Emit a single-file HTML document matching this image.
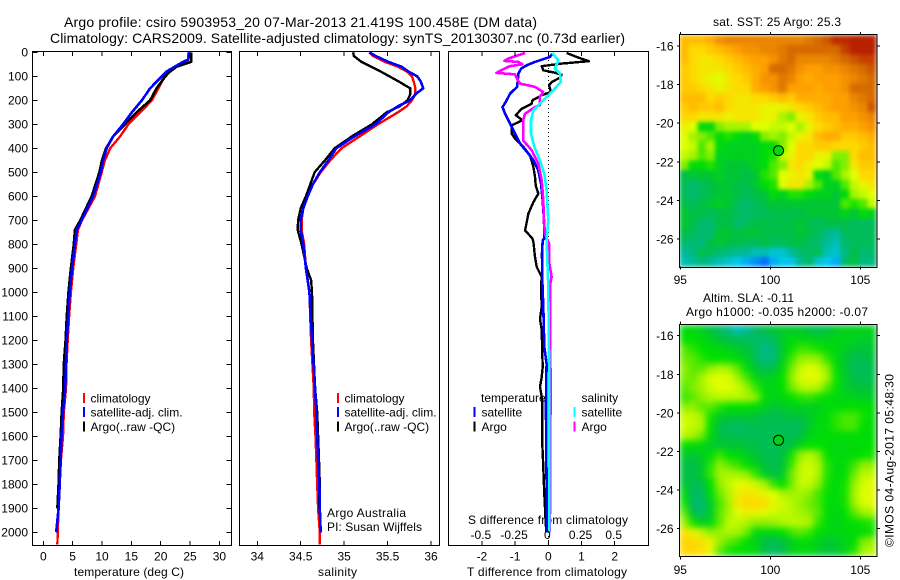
<!DOCTYPE html>
<html>
<head>
<meta charset="utf-8">
<title>Argo profile</title>
<style>
html,body{margin:0;padding:0;background:#fff;}
svg{display:block;}
text{font-family:"Liberation Sans",sans-serif;font-size:12px;fill:#000;}
</style>
</head>
<body>
<svg id="chart" width="900" height="580" viewBox="0 0 900 580" xmlns="http://www.w3.org/2000/svg">
<rect x="0" y="0" width="900" height="580" fill="#fff"/>
<text x="64" y="27" style="font-size:14px" textLength="473">Argo profile: csiro 5903953_20 07-Mar-2013 21.419S 100.458E (DM data)</text>
<text x="50" y="43" style="font-size:14px" textLength="575">Climatology: CARS2009. Satellite-adjusted climatology: synTS_20130307.nc (0.73d earlier)</text>
<text x="74" y="576" textLength="110">temperature (deg C)</text>
<text x="318" y="576" textLength="39">salinity</text>
<text x="467" y="576" textLength="160">T difference from climatology</text>
<text x="468" y="524" textLength="160">S difference from climatology</text>
<text x="327" y="517" textLength="79">Argo Australia</text>
<text x="327" y="531" textLength="95">PI: Susan Wijffels</text>
<text x="713" y="26" textLength="128">sat. SST: 25 Argo: 25.3</text>
<text x="703" y="302" textLength="91">Altim. SLA: -0.11</text>
<text x="686" y="316" textLength="182">Argo h1000: -0.035 h2000: -0.07</text>
<text transform="translate(893.5,547) rotate(-90)" textLength="173">©IMOS 04-Aug-2017 05:48:30</text>
</svg>
<script>
const pressureTicks = [0,100,200,300,400,500,600,700,800,900,1000,1100,1200,1300,1400,1500,1600,1700,1800,1900,2000];
const temperatureTicks = [0,5,10,15,20,25,30];
const salinityTicks = [34,34.5,35,35.5,36];
const salinityTickLabels = ['34','34.5','35','35.5','36'];
const tDiffTicks = [-2,-1,0,1,2];
const sDiffTicks = [-0.5,-0.25,0,0.25,0.5];
const sDiffTickLabels = ['-0.5','-0.25','0','0.25','0.5'];
const lonTicks = [95,100,105];
const latTicks = [-16,-18,-20,-22,-24,-26];

const tempPressure = [0,30,40,60,80,100,150,200,250,300,350,400,450,500,600,700,740,800,900,1000,1100,1200,1300,1400,1500,1600,1700,1800,1900,2000,2050];
const tempClimatology = [24.7,24.7,24.6,22.7,21.3,20.7,19.6,18.5,16.5,14.5,13.1,11.4,10.5,9.95,8.8,6.6,5.9,5.6,5.1,4.7,4.4,4.15,3.95,3.87,3.5,3.35,3.0,2.8,2.6,2.45,2.4];
const tempSatellite = [24.9,24.7,23.8,22.4,21.0,20.2,18.2,16.8,15.1,13.6,11.9,10.8,10.2,9.8,8.5,6.5,5.7,5.4,4.9,4.5,4.25,4.0,3.85,3.75,3.35,3.1,2.95,2.8,2.6,2.2];
const tempArgo = [25.2,25.2,25.2,22.7,21.6,20.8,19.3,18.2,15.9,13.9,11.9,10.7,10.0,9.55,8.25,6.3,5.4,5.2,4.7,4.3,4.0,3.8,3.5,3.4,3.13,2.96,2.73,2.6,2.4];

const salPressure = [0,15,40,60,80,100,120,150,175,200,225,250,300,350,400,450,500,550,600,650,700,740,800,900,950,1000,1200,1400,1500,1600,1700,1800,1900,2000,2050];
const salClimatology = [35.29,35.33,35.47,35.62,35.72,35.78,35.80,35.82,35.82,35.78,35.72,35.62,35.39,35.18,34.97,34.84,34.73,34.64,34.58,34.53,34.51,34.51,34.54,34.56,34.58,34.6,34.62,34.65,34.655,34.67,34.68,34.69,34.70,34.72,34.72];
const salSatellite = [35.29,35.36,35.51,35.66,35.74,35.84,35.88,35.91,35.82,35.76,35.62,35.51,35.36,35.12,34.91,34.82,34.72,34.64,34.58,34.53,34.50,34.50,34.53,34.56,34.58,34.6,34.63,34.665,34.68,34.69,34.70,34.715,34.72,34.73];
const salArgo = [35.105,35.11,35.2,35.31,35.42,35.52,35.62,35.76,35.76,35.73,35.64,35.49,35.32,35.09,34.89,34.78,34.66,34.61,34.56,34.5,34.47,34.465,34.51,34.57,34.62,34.63,34.64,34.665,34.69,34.70,34.71,34.72,34.71];

const dTArgoPressure = [3,19,37,47,58,75,85,93,106,124,137,165,179,200,214,235,262,283,304,339,360,394,429,478,519,554,589,624,672,742,776,790,853,894,936,978,1061,1110,1158,1256,1311,1353,1394,1450,1506,1631,1728,1839,1950,1999];
const dTArgo = [0.55,0.85,1.22,0.40,-0.20,-0.15,0.20,0.40,0.35,0.10,0.02,0.08,-0.20,-0.48,-0.50,-0.80,-0.98,-0.78,-1.10,-1.10,-1.00,-0.75,-0.55,-0.45,-0.40,-0.38,-0.30,-0.45,-0.60,-0.70,-0.48,-0.45,-0.40,-0.35,-0.20,-0.22,-0.20,-0.25,-0.20,-0.18,-0.17,-0.20,-0.25,-0.18,-0.18,-0.18,-0.15,-0.12,-0.08,-0.06];
const dTSatPressure = [6,19,40,54,68,89,117,144,172,207,228,256,297,339,381,422,450,492,547,617,700,776,783,839,950,1061,1228,1297,1450,1506,2000];
const dTSat = [0.12,0.05,-0.40,-0.65,-0.82,-0.90,-0.92,-0.94,-1.15,-1.28,-1.38,-1.30,-1.15,-1.00,-0.85,-0.60,-0.45,-0.30,-0.22,-0.17,-0.13,-0.12,-0.17,-0.19,-0.18,-0.15,-0.12,-0.05,-0.07,-0.07,-0.04];
const dSArgoPressure = [3,26,36,40,50,58,68,86,92,117,131,144,165,186,221,228,256,283,325,367,408,464,533,617,700,756,797,881,936,971,1068,1450,1550,1850,2000];
const dSArgo = [-0.175,-0.30,-0.33,-0.225,-0.195,-0.29,-0.33,-0.39,-0.25,-0.23,-0.21,-0.10,-0.04,-0.063,-0.063,-0.10,-0.175,-0.19,-0.19,-0.19,-0.125,-0.075,-0.05,-0.038,-0.033,-0.025,0.005,0.008,0.025,0.0125,0.0125,0.018,0.015,0.015,0.01];
const dSSatPressure = [3,33,68,89,124,158,200,242,283,339,394,450,506,575,700,783,978,1256,1450,2000];
const dSSat = [0.03,0.075,0.05,0.088,0.093,0.038,-0.038,-0.113,-0.13,-0.13,-0.105,-0.063,-0.03,-0.013,0,-0.013,0,0.005,0.008,0.008];

const sstGrid = [
[26.1,26.1,26.1,26.2,26.4,26.5,26.5,26.5,26.5,26.5,26.5,26.5,26.5,26.5,26.6,26.7,26.8,27.0,27.0,27.2,27.2,27.2],
[26.1,25.9,25.9,26.0,26.1,26.2,26.3,26.4,26.4,26.5,26.5,26.6,26.7,26.7,26.7,26.7,26.7,26.7,26.9,27.1,27.2,27.2],
[26.1,25.9,25.8,25.8,25.9,26.0,26.1,26.2,26.3,26.3,26.4,26.6,26.7,26.5,26.5,26.5,26.5,26.6,26.7,26.8,26.9,26.9],
[26.0,25.9,25.8,25.8,25.8,25.9,26.0,26.1,26.2,26.3,26.7,26.7,26.6,26.4,26.3,26.3,26.4,26.4,26.5,26.6,26.7,26.8],
[26.0,25.9,25.8,25.7,25.6,25.8,25.9,26.0,26.2,26.4,26.4,26.6,26.5,26.3,26.2,26.3,26.3,26.3,26.4,26.5,26.6,26.7],
[26.0,26.0,25.9,25.8,25.7,25.8,25.9,25.9,26.2,26.3,26.4,26.6,26.3,26.3,26.3,26.2,26.3,26.3,26.4,26.7,26.7,26.7],
[26.1,26.1,26.1,25.9,26.0,25.9,25.8,25.8,25.9,25.9,26.0,26.1,26.0,26.2,26.2,26.2,26.2,26.3,26.3,26.5,26.6,26.7],
[26.0,26.1,26.0,26.0,26.1,25.9,25.8,25.8,25.8,25.7,25.7,25.7,25.8,25.9,26.0,26.1,26.2,26.3,26.3,26.4,26.5,26.8],
[25.9,25.9,25.8,25.8,25.8,25.7,25.8,25.8,25.8,25.7,25.7,25.4,25.3,25.7,25.8,26.0,26.1,26.1,26.3,26.3,26.4,26.5],
[25.7,25.6,25.0,25.0,25.3,25.4,25.4,25.4,25.6,25.6,25.5,25.5,25.6,25.4,25.7,25.9,26.0,26.1,26.2,26.2,26.3,26.4],
[25.6,25.4,25.3,25.2,25.0,25.1,25.0,24.9,25.0,25.3,25.4,25.3,25.5,25.7,25.8,26.1,26.2,26.2,26.0,26.0,26.1,26.2],
[25.6,25.5,25.2,25.4,25.0,24.9,24.9,24.9,24.9,25.0,25.0,25.3,25.6,25.9,25.9,26.0,26.0,25.9,25.9,25.9,26.0,26.1],
[25.5,25.4,25.2,25.3,24.9,24.9,24.9,24.9,24.9,25.0,25.1,25.5,25.7,25.9,25.9,25.7,25.7,25.3,25.3,25.9,26.1,26.1],
[25.3,25.0,25.0,25.1,24.9,24.8,24.8,24.8,24.9,25.0,25.2,25.3,25.8,25.9,25.7,25.6,25.5,25.2,25.3,25.8,26.0,26.0],
[24.7,24.8,24.8,24.8,24.9,24.8,24.8,24.7,24.8,25.1,25.2,25.6,25.7,25.8,25.7,25.0,24.9,25.2,25.4,25.6,25.9,25.9],
[24.6,24.5,24.6,24.7,24.8,24.8,24.7,24.7,24.8,25.0,25.1,25.6,25.8,25.8,25.4,25.2,24.9,24.9,25.2,25.5,25.7,25.8],
[24.6,24.5,24.6,24.7,24.8,24.8,24.7,24.6,24.7,24.8,25.0,24.9,25.1,25.1,25.0,24.9,24.9,24.8,25.0,25.4,25.5,25.6],
[24.7,24.6,24.7,24.8,24.9,24.8,24.6,24.5,24.6,24.7,24.8,24.8,24.8,24.8,24.8,24.8,24.8,24.8,25.2,25.1,25.2,25.5],
[24.8,24.7,24.7,24.6,24.7,24.7,24.6,24.5,24.6,24.6,24.7,24.7,24.7,24.7,24.8,24.8,24.8,24.8,24.9,24.8,25.0,24.9],
[24.8,24.7,24.5,24.5,24.7,24.7,24.5,24.6,24.7,24.7,24.7,24.7,24.7,24.8,24.7,24.6,24.7,24.7,24.7,24.6,24.6,24.6],
[24.7,24.6,24.5,24.5,24.8,24.8,24.7,24.8,24.8,24.7,24.7,24.7,24.7,24.8,24.7,24.6,24.4,24.3,24.6,24.6,24.6,24.6],
[24.5,24.5,24.4,24.7,24.8,24.7,24.7,24.6,24.6,24.7,24.6,24.6,24.7,24.7,24.6,24.5,24.3,24.2,24.5,24.6,24.6,24.6],
[24.3,24.4,24.7,24.6,24.5,24.4,24.3,24.3,24.2,24.2,24.1,24.1,24.3,24.5,24.6,24.6,24.2,24.1,24.4,24.7,24.5,24.5],
[24.2,24.3,24.4,24.3,24.2,24.1,24.0,23.9,23.8,23.7,23.9,24.0,24.0,24.3,24.5,24.1,24.0,23.9,24.5,24.7,24.4,24.4]
];
const slaGrid = [
[-0.1,-0.1,-0.13,-0.17,-0.22,-0.28,-0.33,-0.3,-0.22,-0.18,-0.16,-0.14,-0.14,-0.15,-0.17,-0.2,-0.17,-0.14,-0.12,-0.12,-0.12,-0.12],
[-0.08,-0.08,-0.1,-0.12,-0.16,-0.18,-0.2,-0.21,-0.22,-0.24,-0.2,-0.14,-0.1,-0.1,-0.11,-0.12,-0.12,-0.11,-0.11,-0.12,-0.13,-0.13],
[-0.03,-0.06,-0.08,-0.09,-0.1,-0.12,-0.14,-0.17,-0.22,-0.28,-0.25,-0.14,-0.08,-0.05,-0.05,-0.07,-0.09,-0.1,-0.13,-0.15,-0.16,-0.15],
[-0.02,-0.03,-0.06,-0.08,-0.08,-0.08,-0.1,-0.13,-0.2,-0.27,-0.25,-0.13,-0.05,0.0,0.01,0,-0.05,-0.1,-0.15,-0.19,-0.19,-0.17],
[0.0,-0.03,-0.03,0,0.03,0.02,-0.03,-0.09,-0.16,-0.2,-0.18,-0.1,-0.02,0.05,0.08,0.06,0,-0.08,-0.15,-0.2,-0.21,-0.2],
[-0.01,-0.02,0.02,0.07,0.08,0.07,0.02,-0.04,-0.1,-0.13,-0.12,-0.08,0,0.07,0.1,0.08,0.02,-0.07,-0.14,-0.18,-0.2,-0.19],
[-0.03,-0.01,0.02,0.06,0.08,0.08,0.06,0.01,-0.05,-0.1,-0.11,-0.08,-0.02,0.03,0.05,0.03,-0.03,-0.08,-0.13,-0.16,-0.16,-0.16],
[-0.05,-0.03,0,0.03,0.04,0.04,0.04,0.03,0,-0.09,-0.12,-0.1,-0.08,-0.06,-0.05,-0.07,-0.09,-0.1,-0.11,-0.12,-0.13,-0.13],
[0,0,-0.03,-0.03,-0.06,-0.08,-0.08,-0.08,-0.1,-0.12,-0.15,-0.14,-0.12,-0.12,-0.12,-0.12,-0.1,-0.09,-0.09,-0.08,-0.08,-0.09],
[0.06,0.05,0.02,-0.07,-0.13,-0.15,-0.15,-0.15,-0.16,-0.19,-0.2,-0.18,-0.16,-0.17,-0.14,-0.11,-0.09,-0.06,-0.04,-0.04,-0.07,-0.09],
[0.07,0.05,0.03,-0.08,-0.18,-0.21,-0.22,-0.21,-0.19,-0.2,-0.2,-0.2,-0.21,-0.2,-0.14,-0.1,-0.09,-0.06,-0.04,-0.04,-0.08,-0.09],
[0.04,0.02,-0.02,-0.1,-0.17,-0.19,-0.2,-0.2,-0.2,-0.2,-0.19,-0.19,-0.2,-0.17,-0.12,-0.09,-0.09,-0.09,-0.09,-0.09,-0.09,-0.09],
[-0.08,-0.09,-0.1,-0.14,-0.15,-0.16,-0.15,-0.16,-0.18,-0.2,-0.19,-0.19,-0.17,-0.11,-0.08,-0.08,-0.09,-0.1,-0.1,-0.1,-0.09,-0.08],
[-0.14,-0.15,-0.13,-0.09,-0.05,-0.08,-0.1,-0.13,-0.16,-0.19,-0.2,-0.18,-0.07,0,0.04,0,-0.08,-0.1,-0.1,-0.09,-0.08,-0.07],
[-0.17,-0.18,-0.15,-0.06,0,-0.03,-0.05,-0.08,-0.12,-0.17,-0.2,-0.16,-0.05,0.04,0.06,0.03,-0.06,-0.1,-0.09,-0.05,0,0],
[-0.17,-0.18,-0.14,-0.05,0.02,0.03,0.02,0,-0.05,-0.13,-0.18,-0.14,-0.02,0.05,0.07,0.03,-0.06,-0.1,-0.08,-0.02,0.04,0.05],
[-0.15,-0.2,-0.18,-0.08,0.0,0.05,0.08,0.1,0.06,0.02,-0.05,-0.08,-0.02,0.05,0.05,0,-0.07,-0.1,-0.07,0,0.07,0.08],
[-0.1,-0.22,-0.22,-0.1,-0.02,0.03,0.12,0.14,0.13,0.1,0.08,0.03,0.02,0.02,0,-0.04,-0.08,-0.1,-0.07,0.02,0.08,0.09],
[-0.07,-0.22,-0.25,-0.13,-0.04,0.02,0.13,0.17,0.17,0.16,0.1,0.06,0.04,0.01,-0.02,-0.04,-0.08,-0.1,-0.07,0.01,0.07,0.09],
[-0.03,-0.18,-0.23,-0.14,-0.03,0.02,0.08,0.12,0.1,0.09,0.06,0.05,0.04,0.02,0,-0.03,-0.09,-0.11,-0.08,-0.03,0.01,0.03],
[0.02,-0.07,-0.13,-0.1,-0.03,0.05,0.05,0.03,0.0,0,0.01,0.03,0.04,0.04,0.03,-0.05,-0.1,-0.11,-0.09,-0.08,-0.07,-0.06],
[0.15,0.1,0.05,0,0.01,0.03,0.02,-0.02,-0.1,-0.1,-0.1,-0.08,-0.05,-0.03,-0.05,-0.08,-0.1,-0.11,-0.1,-0.09,-0.09,-0.07],
[0.18,0.17,0.15,0.1,0.01,-0.03,-0.05,-0.08,-0.12,-0.18,-0.2,-0.18,-0.12,-0.09,-0.09,-0.12,-0.15,-0.14,-0.11,-0.09,-0.01,0.01],
[0.17,0.17,0.16,0.1,-0.03,-0.07,-0.08,-0.09,-0.1,-0.17,-0.23,-0.18,-0.12,-0.1,-0.1,-0.13,-0.16,-0.15,-0.12,-0.06,0.02,0.04]
];
const argoLon = 100.458;
const argoLat = -21.419;
const argoSst = 25.0;
const argoSla = -0.11;

const svg = document.getElementById('chart');
const NS = 'http://www.w3.org/2000/svg';

function make(tag, attrs, parent) {
  const el = document.createElementNS(NS, tag);
  for (const k in attrs) el.setAttribute(k, attrs[k]);
  (parent || svg).appendChild(el);
  return el;
}

const yP = p => 52.3 + p * 0.24;
const xT = t => 43.3 + t * 5.87;
const xS = s => 257.3 + (s - 34) * 86.85;
const xDT = d => 548.3 + d * 33.2;
const xDS = d => 548.3 + d * 132.8;
const xLon = lon => 770.3 + (lon - 100) * 18;
const ySst = lat => 46 + (-16 - lat) * 19.3;
const ySla = lat => 335.7 + (-16 - lat) * 19.3;

function drawLine(name, pressures, values, xFn, color, width) {
  const pts = values.map((v, i) => xFn(v).toFixed(1) + ',' + yP(pressures[i]).toFixed(1)).join(' ');
  const el = make('polyline', {points: pts, fill: 'none', stroke: color, 'stroke-width': width, 'shape-rendering': 'crispEdges', 'stroke-linejoin': 'round'});
  
  
}

function drawFrame(name, x0, x1, y0, y1) {
  const el = make('rect', {x: x0, y: y0, width: x1 - x0, height: y1 - y0, fill: 'none', stroke: '#000', 'stroke-width': 1, 'shape-rendering': 'crispEdges'});
  
  
}

function tickMark(x1, y1, x2, y2) {
  const el = make('line', {x1: x1, y1: y1, x2: x2, y2: y2, stroke: '#000', 'stroke-width': 1, 'shape-rendering': 'crispEdges'});
  
  
}

function tickLabel(txt, x, y, anchor) {
  const el = make('text', {x: x, y: y, 'text-anchor': anchor});
  el.textContent = txt;
  
  
}

function legendEntry(barX, y, color, label, textX) {
  const bar = make('rect', {x: barX, y: y, width: 2, height: 10, fill: color, 'shape-rendering': 'crispEdges'});
  
  
  const t = make('text', {x: textX, y: y + 9.5});
  t.textContent = label;
  
  
}

const rampT = [0,0.11,0.22,0.33,0.42,0.5,0.58,0.67,0.78,0.89,1];
const rampC = [[0,80,255],[0,200,240],[0,184,136],[0,192,64],[0,224,0],[144,240,0],[224,255,0],[255,216,0],[255,160,0],[216,112,0],[184,32,0]];
function ramp(t) {
  t = Math.max(0, Math.min(1, t));
  let i = 0;
  while (i < rampT.length - 2 && t > rampT[i + 1]) i++;
  const f = (t - rampT[i]) / (rampT[i + 1] - rampT[i]);
  const c = rampC[i].map((v, k) => Math.round(v + (rampC[i + 1][k] - v) * f));
  return 'rgb(' + c.join(',') + ')';
}
const sstColor = v => ramp((v - 23.6) / 3.45);
const slaColor = v => ramp((v + 0.5) / 1.0);

function drawMap(name, grid, colorFn, yFn, argoValue, blur) {
  const westLon = 94.95, stepLon = 0.497, northLat = -15.43, stepLat = 0.5;
  const top = yFn(northLat), bottom = yFn(northLat - grid.length * stepLat);
  const left = xLon(westLon), right = xLon(westLon + grid[0].length * stepLon);
  const filter = make('filter', {id: name + '-smooth', filterUnits: 'userSpaceOnUse', x: left, y: top, width: right - left, height: bottom - top, 'color-interpolation-filters': 'sRGB'});
  make('feGaussianBlur', {stdDeviation: blur, edgeMode: 'duplicate'}, filter);
  const group = make('g', {filter: 'url(#' + name + '-smooth)'});
  
  
  grid.forEach((row, r) => {
    row.forEach((v, c) => {
      const x0 = xLon(westLon + c * stepLon), x1 = xLon(westLon + (c + 1) * stepLon);
      const y0 = yFn(northLat - r * stepLat), y1 = yFn(northLat - (r + 1) * stepLat);
      const cell = make('rect', {x: x0.toFixed(2), y: y0.toFixed(2), width: (x1 - x0 + 0.3).toFixed(2), height: (y1 - y0 + 0.3).toFixed(2), fill: colorFn(v), 'shape-rendering': 'crispEdges'}, group);
      
      
    });
  });
  drawFrame(name + '-frame', 679.5, 877, Math.round(top) - 0.5, Math.round(bottom) + 0.5);
  lonTicks.forEach(l => {
    tickMark(xLon(l), top - 3, xLon(l), top);
    tickMark(xLon(l), bottom, xLon(l), bottom + 3);
    tickLabel(String(l), xLon(l), bottom + 17.5, 'middle');
  });
  latTicks.forEach(l => {
    tickMark(877, yFn(l), 880, yFn(l));
    tickMark(677, yFn(l), 679.5, yFn(l));
    tickLabel(String(l), 673.5, yFn(l) + 4.5, 'end');
  });
  const dot = make('circle', {cx: xLon(argoLon), cy: yFn(argoLat), r: 5, fill: colorFn(argoValue), stroke: '#000', 'stroke-width': 1});
  
  
}

/* temperature panel */
drawLine('temperature-climatology-line', tempPressure, tempClimatology, xT, '#ff0000', 2.4);
drawLine('temperature-argo-line', tempPressure, tempArgo, xT, '#000000', 2.6);
drawLine('temperature-satellite-line', tempPressure, tempSatellite, xT, '#0000ff', 2.6);
drawFrame('temperature-panel-frame', 32.5, 231.5, 51.5, 545.5);
pressureTicks.forEach(p => {
  tickMark(32.5, yP(p), 37.5, yP(p));
  tickMark(226.5, yP(p), 231.5, yP(p));
  tickLabel(String(p), 28, yP(p) + 4.3, 'end');
});
temperatureTicks.forEach(t => {
  tickMark(xT(t), 51.5, xT(t), 56);
  tickMark(xT(t), 541, xT(t), 545.5);
  tickLabel(String(t), xT(t), 560.5, 'middle');
});
legendEntry(83, 393, '#ff0000', 'climatology', 90.5);
legendEntry(83, 407, '#0000ff', 'satellite-adj. clim.', 90.5);
legendEntry(83, 421.5, '#000000', 'Argo(..raw -QC)', 90.5);

/* salinity panel */
drawLine('salinity-climatology-line', salPressure, salClimatology, xS, '#ff0000', 2.4);
drawLine('salinity-argo-line', salPressure, salArgo, xS, '#000000', 2.4);
drawLine('salinity-satellite-line', salPressure, salSatellite, xS, '#0000ff', 2.6);
drawFrame('salinity-panel-frame', 239.5, 439.5, 51.5, 545.5);
salinityTicks.forEach((s, i) => {
  tickMark(xS(s), 51.5, xS(s), 56);
  tickMark(xS(s), 541, xS(s), 545.5);
  tickLabel(salinityTickLabels[i], xS(s), 560.5, 'middle');
});
legendEntry(337, 393, '#ff0000', 'climatology', 344.5);
legendEntry(337, 407, '#0000ff', 'satellite-adj. clim.', 344.5);
legendEntry(337, 421.5, '#000000', 'Argo(..raw -QC)', 344.5);

/* difference panel */
const zeroLine = make('line', {x1: xDT(0), y1: 52, x2: xDT(0), y2: 545, stroke: '#000', 'stroke-width': 1, 'stroke-dasharray': '1 3', 'shape-rendering': 'crispEdges'});


drawLine('t-difference-argo-line', dTArgoPressure, dTArgo, xDT, '#000000', 2.4);
drawLine('t-difference-satellite-line', dTSatPressure, dTSat, xDT, '#0000ff', 2.6);
drawLine('s-difference-argo-line', dSArgoPressure, dSArgo, xDS, '#ff00ff', 2.6);
drawLine('s-difference-satellite-line', dSSatPressure, dSSat, xDS, '#00ffff', 2.6);
drawFrame('difference-panel-frame', 448.5, 648.5, 51.5, 545.5);
tDiffTicks.forEach(d => {
  tickMark(xDT(d), 51.5, xDT(d), 56);
  tickMark(xDT(d), 541, xDT(d), 545.5);
  tickLabel(String(d), xDT(d), 560.5, 'middle');
});
sDiffTicks.forEach((d, i) => {
  tickLabel(sDiffTickLabels[i], xDS(d) - 1, 539, 'middle');
});
const tempHead = make('text', {x: 481, y: 402});
tempHead.textContent = 'temperature';


const salHead = make('text', {x: 581.5, y: 402});
salHead.textContent = 'salinity';


legendEntry(473.5, 407, '#0000ff', 'satellite', 481.5);
legendEntry(473.5, 421.5, '#000000', 'Argo', 481.5);
legendEntry(573.5, 407, '#00ffff', 'satellite', 581.5);
legendEntry(573.5, 421.5, '#ff00ff', 'Argo', 581.5);

/* maps */
drawMap('sst-map', sstGrid, sstColor, ySst, argoSst, 2);
drawMap('sla-map', slaGrid, slaColor, ySla, argoSla, 3.5);
</script>
</body>
</html>
